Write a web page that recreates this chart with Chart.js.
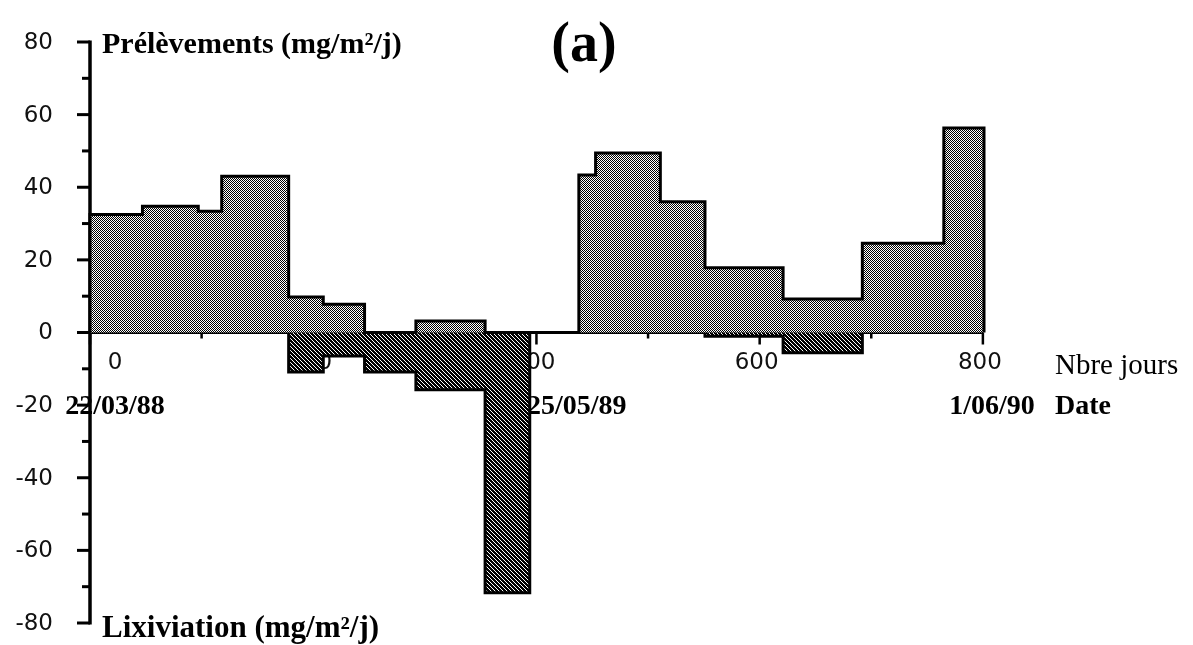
<!DOCTYPE html>
<html lang="fr">
<head>
<meta charset="utf-8">
<title>Prélèvements et lixiviation</title>
<script src="https://cdn.jsdelivr.net/npm/chart.js@4.4.1/dist/chart.umd.min.js"></script>
<style>
  html, body { margin: 0; padding: 0; background: #fff; }
  #wrap { width: 1193px; height: 645px; }
</style>
</head>
<body>
<div id="wrap"><canvas id="chart" width="1193" height="645"></canvas></div>
<script>
// Limites des périodes (jours depuis le 22/03/88)
const jours = [0, 47, 97, 118, 178, 209, 246, 292, 354, 394, 438, 453, 511, 551, 621, 692, 765, 801];
// Une valeur par période (mg/m²/j)
const prelevements = [32.5, 34.8, 33.4, 43, 9.8, 7.8, 0, 3.2, 0, 0, 43.4, 49.4, 36, 17.8, 9.2, 24.6, 56.3];
const lixiviation = [0, 0, 0, 0, -10.9, -6.5, -10.9, -15.8, -71.7, 0, 0, 0, 0, -1, -5.6, 0, 0];

// Graduations
const ticksJours = [0, 200, 400, 600, 800];
const ticksJoursMineurs = [100, 300, 500, 700];
const ticksValeurs = [80, 60, 40, 20, 0, -20, -40, -60, -80];
const ticksValeursMineurs = [70, 50, 30, 10, -10, -30, -50, -70];
const dates = ['22/03/88', '25/05/89', '1/06/90'];
const joursDates = [0, 429, 801];

// Transforme les valeurs par période en points pour une ligne en escalier
function enEscalier(valeurs) {
  const pts = [{x: jours[0], y: 0}];
  valeurs.forEach((v, i) => pts.push({x: jours[i], y: v}));
  const fin = jours[jours.length - 1];
  pts.push({x: fin, y: valeurs[valeurs.length - 1]});
  pts.push({x: fin, y: 0});
  return pts;
}

// Trames de remplissage (pointillé clair, hachures sombres)
function motif(dessin) {
  const c = document.createElement('canvas');
  c.width = 4; c.height = 4;
  const g = c.getContext('2d');
  g.fillStyle = '#fff';
  g.fillRect(0, 0, 4, 4);
  g.fillStyle = '#000';
  for (let py = 0; py < 4; py++) {
    for (let px = 0; px < 4; px++) {
      if (dessin(px, py)) g.fillRect(px, py, 1, 1);
    }
  }
  return document.getElementById('chart').getContext('2d').createPattern(c, 'repeat');
}
const motifClair = motif((px, py) => (px + py) % 2 === 0);
const motifSombre = motif((px, py) => (px - py + 4) % 4 !== 0);

const serif = '"Liberation Serif", "Times New Roman", serif';
const sans = '"DejaVu Sans", sans-serif';

function trait(ctx, x1, y1, x2, y2) {
  ctx.beginPath();
  ctx.moveTo(x1, y1);
  ctx.lineTo(x2, y2);
  ctx.stroke();
}

// Axes, graduations et textes dessinés avant les données (les barres masquent certains chiffres)
const axesManuels = {
  id: 'axesManuels',
  beforeDatasetsDraw(chart) {
    const ctx = chart.ctx;
    const sx = chart.scales.x;
    const sy = chart.scales.y;
    const x0 = sx.getPixelForValue(0);
    const y0 = sy.getPixelForValue(0);
    const yHaut = sy.getPixelForValue(80);
    const yBas = sy.getPixelForValue(-80);
    const xFin = sx.getPixelForValue(jours[jours.length - 1]);

    ctx.save();
    ctx.strokeStyle = '#000';
    ctx.fillStyle = '#000';
    ctx.lineCap = 'butt';

    // axe vertical
    ctx.lineWidth = 3.5;
    trait(ctx, x0, yHaut - 1.5, x0, yBas + 1.5);
    ctx.lineWidth = 3;
    ticksValeurs.forEach(v => {
      const py = sy.getPixelForValue(v);
      trait(ctx, x0 - 13, py, x0, py);
    });
    ticksValeursMineurs.forEach(v => {
      const py = sy.getPixelForValue(v);
      trait(ctx, x0 - 8, py, x0, py);
    });

    // axe horizontal
    ctx.lineWidth = 3;
    trait(ctx, x0, y0, xFin, y0);
    ctx.lineWidth = 2.5;
    ticksJours.forEach(j => {
      const px = sx.getPixelForValue(j);
      trait(ctx, px, y0, px, y0 + 12);
    });
    ticksJoursMineurs.forEach(j => {
      const px = sx.getPixelForValue(j);
      trait(ctx, px, y0, px, y0 + 6);
    });

    // chiffres de l'axe vertical
    ctx.fillStyle = '#111';
    ctx.font = '23px ' + sans;
    ctx.textAlign = 'right';
    ctx.textBaseline = 'middle';
    ticksValeurs.forEach(v => {
      ctx.fillText(String(v), 53, sy.getPixelForValue(v) + 1);
    });

    // chiffres de l'axe horizontal
    ctx.textAlign = 'center';
    ticksJours.forEach(j => {
      const dx = j === 0 ? 25 : -3;
      ctx.fillText(String(j), sx.getPixelForValue(j) + dx, y0 + 31);
    });

    // dates
    ctx.fillStyle = '#000';
    ctx.textBaseline = 'alphabetic';
    ctx.font = 'bold 28px ' + serif;
    dates.forEach((d, i) => {
      const dx = i === 0 ? 25 : 8;
      ctx.fillText(d, sx.getPixelForValue(joursDates[i]) + dx, y0 + 81);
    });

    // légendes des axes
    ctx.textAlign = 'left';
    ctx.font = '29px ' + serif;
    ctx.fillText('Nbre jours', xFin + 71, y0 + 41);
    ctx.font = 'bold 28px ' + serif;
    ctx.fillText('Date', xFin + 71, y0 + 81);

    ctx.font = 'bold 30px ' + serif;
    ctx.fillText('Prélèvements (mg/m²/j)', x0 + 12, yHaut + 11);
    ctx.font = 'bold 31px ' + serif;
    ctx.fillText('Lixiviation (mg/m²/j)', x0 + 12, yBas + 14);

    ctx.textAlign = 'center';
    ctx.font = 'bold 56px ' + serif;
    ctx.fillText('(a)', 584, 61);
    ctx.restore();
  }
};

new Chart(document.getElementById('chart'), {
  type: 'line',
  data: {
    datasets: [
      {
        label: 'Prélèvements',
        data: enEscalier(prelevements),
        stepped: 'before',
        fill: 'origin',
        backgroundColor: motifClair,
        borderColor: '#000',
        borderWidth: 3,
        borderJoinStyle: 'miter',
        pointRadius: 0,
        clip: false
      },
      {
        label: 'Lixiviation',
        data: enEscalier(lixiviation),
        stepped: 'before',
        fill: 'origin',
        backgroundColor: motifSombre,
        borderColor: '#000',
        borderWidth: 3,
        borderJoinStyle: 'miter',
        pointRadius: 0,
        clip: false
      }
    ]
  },
  options: {
    responsive: false,
    animation: false,
    devicePixelRatio: 1,
    layout: {
      padding: {left: 90, right: 209, top: 42, bottom: 22}
    },
    scales: {
      x: {type: 'linear', min: 0, max: 801, display: false},
      y: {type: 'linear', min: -80, max: 80, display: false}
    },
    plugins: {
      legend: {display: false},
      tooltip: {enabled: false}
    },
    events: []
  },
  plugins: [axesManuels]
});
</script>
</body>
</html>
